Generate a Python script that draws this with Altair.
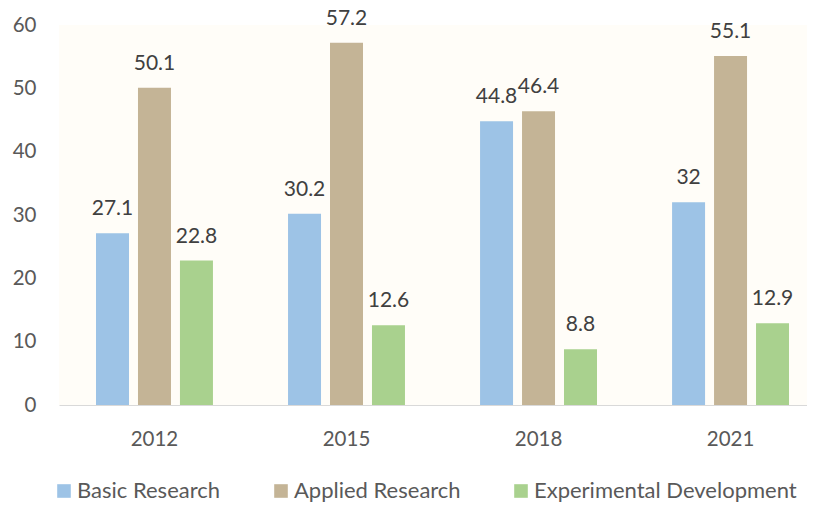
import altair as alt
import pandas as pd

years = ["2012", "2015", "2018", "2021"]
series = ["Basic Research", "Applied Research", "Experimental Development"]
basic = [27.1, 30.2, 44.8, 32]
applied = [50.1, 57.2, 46.4, 55.1]
experimental = [22.8, 12.6, 8.8, 12.9]
colors = ["#9DC3E6", "#C4B496", "#A9D18E"]
y_ticks = [0, 10, 20, 30, 40, 50, 60]

rows = []
for i, yr in enumerate(years):
    for s, vals in zip(series, [basic, applied, experimental]):
        rows.append({"year": yr, "series": s, "value": vals[i]})
df = pd.DataFrame(rows)

FONT = "Lato"
GRAY = "#595959"

x = alt.X(
    "year:N",
    sort=years,
    scale=alt.Scale(paddingInner=0.391, paddingOuter=0.1432, align=0.673),
    axis=alt.Axis(
        title=None, labelAngle=0, labelFont=FONT, labelFontSize=20.5,
        labelColor=GRAY, labelPadding=40, labelBaseline="alphabetic",
        domainColor="#D9D9D9", domainWidth=1, ticks=False, tickSize=0,
        grid=False,
    ),
)
xo = alt.XOffset("series:N", sort=series,
                 scale=alt.Scale(paddingInner=0.214, paddingOuter=0))
y = alt.Y(
    "value:Q",
    scale=alt.Scale(domain=[0, 60], nice=False),
    axis=alt.Axis(
        title=None, values=y_ticks, grid=False, domain=False, ticks=False,
        tickSize=0, labelPadding=23, labelFont=FONT, labelFontSize=20.5,
        labelColor=GRAY,
    ),
)
color = alt.Color(
    "series:N",
    sort=series,
    scale=alt.Scale(domain=series, range=colors),
    legend=alt.Legend(
        orient="none", legendX=-6, legendY=455, direction="horizontal",
        title=None, symbolType="square", symbolSize=185, symbolStrokeWidth=0,
        symbolOpacity=1, labelFontSize=22, labelFont=FONT, labelColor=GRAY,
        columnPadding=49, labelOffset=2, labelLimit=0,
    ),
)

bars = alt.Chart(df).mark_bar().encode(x=x, xOffset=xo, y=y, color=color)
labels = alt.Chart(df).mark_text(
    dy=-18, baseline="alphabetic", fontSize=21, font=FONT, color="#404040"
).encode(x=x, xOffset=xo, y=y, text=alt.Text("value:Q"))

chart = (
    alt.layer(bars, labels)
    .properties(
        width=748, height=380,
        autosize=alt.AutoSizeParams(type="none"),
        padding={"left": 51, "top": 17, "right": 0, "bottom": 100},
    )
    .configure_view(fill="#FFFDF8", stroke=None)
)

chart.save("out.html", embed_options={"renderer": "svg", "actions": False})
